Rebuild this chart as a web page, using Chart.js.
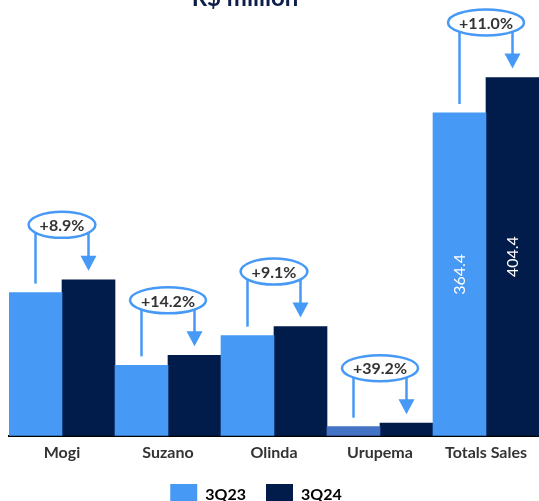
<!DOCTYPE html>
<html>
<head>
<meta charset="utf-8">
<script src="https://cdn.jsdelivr.net/npm/chart.js@4.4.1/dist/chart.umd.min.js"></script>
<style>
  html, body { margin: 0; padding: 0; background: #ffffff; overflow: hidden; }
  #wrap { position: relative; width: 539px; height: 521px; }
</style>
</head>
<body>
<div id="wrap"><canvas id="salesChart"></canvas></div>
<script>
// Chart data
const categories = ['Mogi', 'Suzano', 'Olinda', 'Urupema', 'Totals Sales'];
const sales3Q23 = [161.6, 79.5, 113.0, 10.3, 364.4];
const sales3Q24 = [176.0, 90.8, 123.3, 14.3, 404.4];
const growthLabels = ['+8.9%', '+14.2%', '+9.1%', '+39.2%', '+11.0%'];
const seriesNames = ['3Q23', '3Q24'];
const titleText = 'R$ million';

const lightBlue = '#4799F6';
const navy = '#011B4B';
const urupemaBlue = '#4472C4';
const textGrey = '#333333';
const fontFamily = 'Lato, "Open Sans", sans-serif';

// Title drawn partly off the top edge, like the reference crop
const titlePlugin = {
  id: 'cutTitle',
  afterDraw(chart) {
    const ctx = chart.ctx;
    ctx.save();
    ctx.font = `bold 24px ${fontFamily}`;
    ctx.fillStyle = '#0E1E4A';
    ctx.textAlign = 'center';
    ctx.textBaseline = 'alphabetic';
    ctx.fillText(titleText, 245, 6);
    ctx.restore();
  }
};

// legend sits a little left of centre and a bit higher in the reference
const legendShift = {
  id: 'legendShift',
  afterLayout(chart) {
    chart.legend.left -= 18;
    chart.legend.right -= 18;
    chart.legend.top -= 5;
    chart.legend.bottom -= 5;
  }
};

// Growth bubbles with connector line and arrow
const growthPlugin = {
  id: 'growthArrows',
  afterDatasetsDraw(chart) {
    const ctx = chart.ctx;
    const metaA = chart.getDatasetMeta(0);
    const metaB = chart.getDatasetMeta(1);
    ctx.save();
    ctx.font = `bold 16px ${fontFamily}`;
    categories.forEach((cat, i) => {
      const a = metaA.data[i];
      const b = metaB.data[i];
      const cx = (a.x + b.x) / 2;
      const cy = b.y - 55;
      const tw = ctx.measureText(growthLabels[i]).width;
      const rx = tw / 2 + 11;
      const ry = 13;

      ctx.strokeStyle = lightBlue;
      ctx.lineWidth = 2.5;

      // ellipse
      ctx.beginPath();
      ctx.ellipse(cx, cy, rx, ry, 0, 0, Math.PI * 2);
      ctx.fillStyle = '#ffffff';
      ctx.fill();
      ctx.stroke();

      const edgeY = x => cy + ry * Math.sqrt(Math.max(0, 1 - Math.pow((x - cx) / rx, 2)));

      // line down to the 3Q23 bar
      ctx.beginPath();
      ctx.moveTo(a.x, edgeY(a.x));
      ctx.lineTo(a.x, a.y - 9);
      ctx.stroke();

      // arrow down to the 3Q24 bar
      const tipY = b.y - 9;
      ctx.beginPath();
      ctx.moveTo(b.x, edgeY(b.x));
      ctx.lineTo(b.x, tipY - 14);
      ctx.stroke();
      ctx.beginPath();
      ctx.moveTo(b.x - 8, tipY - 15);
      ctx.lineTo(b.x + 8, tipY - 15);
      ctx.lineTo(b.x, tipY);
      ctx.closePath();
      ctx.fillStyle = lightBlue;
      ctx.fill();

      // text
      ctx.fillStyle = textGrey;
      ctx.textAlign = 'center';
      ctx.textBaseline = 'middle';
      ctx.fillText(growthLabels[i], cx, cy + 1);
    });
    ctx.restore();
  }
};

// Rotated value labels inside the total bars
const valueLabelPlugin = {
  id: 'totalValues',
  afterDatasetsDraw(chart) {
    const ctx = chart.ctx;
    const last = categories.length - 1;
    ctx.save();
    ctx.font = `16px ${fontFamily}`;
    ctx.fillStyle = '#ffffff';
    ctx.textAlign = 'center';
    ctx.textBaseline = 'middle';
    [0, 1].forEach(d => {
      const bar = chart.getDatasetMeta(d).data[last];
      const value = chart.data.datasets[d].data[last];
      ctx.save();
      ctx.translate(bar.x, (bar.y + bar.base) / 2);
      ctx.rotate(-Math.PI / 2);
      ctx.fillText(value.toFixed(1), 0, 0);
      ctx.restore();
    });
    ctx.restore();
  }
};

const ctx = document.getElementById('salesChart').getContext('2d');
new Chart(ctx, {
  type: 'bar',
  data: {
    labels: categories,
    datasets: [
      {
        label: seriesNames[0],
        data: sales3Q23,
        backgroundColor: categories.map((c, i) => i === 3 ? urupemaBlue : lightBlue),
        borderWidth: 0,
        categoryPercentage: 1,
        barPercentage: 1
      },
      {
        label: seriesNames[1],
        data: sales3Q24,
        backgroundColor: navy,
        borderWidth: 0,
        categoryPercentage: 1,
        barPercentage: 1
      }
    ]
  },
  options: {
    responsive: true,
    maintainAspectRatio: false,
    animation: false,
    layout: { padding: { top: 30, left: 9, right: 0, bottom: 0 } },
    plugins: {
      tooltip: { enabled: false },
      title: { display: false },
      legend: {
        position: 'bottom',
        labels: {
          color: textGrey,
          boxWidth: 27,
          boxHeight: 22,
          padding: 20,
          font: { family: fontFamily, size: 16, weight: 'bold' },
          generateLabels: chart => seriesNames.map((name, i) => ({
            text: name,
            fillStyle: i === 0 ? lightBlue : navy,
            strokeStyle: i === 0 ? lightBlue : navy,
            lineWidth: 0,
            datasetIndex: i
          }))
        }
      }
    },
    scales: {
      x: {
        grid: { display: false, drawTicks: false },
        border: { display: true, color: '#000000', width: 2 },
        ticks: {
          color: textGrey,
          padding: 7,
          font: { family: fontFamily, size: 16, weight: 'bold' }
        }
      },
      y: {
        display: false,
        min: 0,
        max: 458
      }
    }
  },
  plugins: [growthPlugin, valueLabelPlugin, titlePlugin, legendShift]
});
</script>
</body>
</html>
